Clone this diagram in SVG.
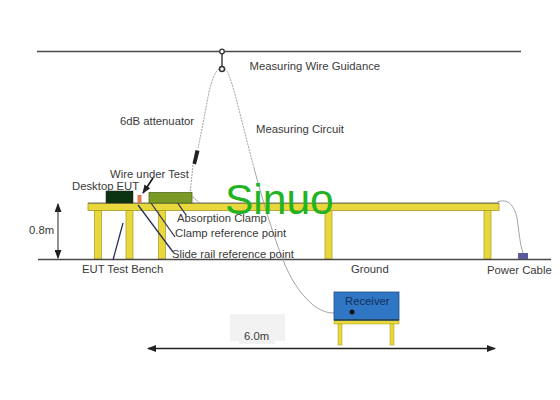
<svg xmlns="http://www.w3.org/2000/svg" width="560" height="400" viewBox="0 0 560 400">
<style>
text{font-family:"Liberation Sans",Arial,sans-serif;font-size:11.3px;fill:#3a3a3a}
.leg{fill:#e8d83c;stroke:#a89a20;stroke-width:.7}
.ln{fill:none;stroke:#4a4a4a;stroke-width:1.6}
.lead{fill:none;stroke:#2a3358;stroke-width:1.3}
.wire{fill:none;stroke:#999;stroke-width:.9}
</style>
<defs>
<marker id="ah" markerWidth="9" markerHeight="7" refX="8" refY="3.5" orient="auto-start-reverse" markerUnits="userSpaceOnUse"><path d="M0 0L9 3.5L0 7Z" fill="#222"/></marker>
</defs>
<rect width="560" height="400" fill="#fff"/>
<g id="bench">
<rect class="leg" x="94.500" y="210" width="7" height="49"/>
<rect class="leg" x="126" y="210" width="7" height="49"/>
<rect class="leg" x="158.500" y="210" width="7" height="49"/>
<rect class="leg" x="325" y="210" width="7" height="49"/>
<rect class="leg" x="484" y="210" width="7" height="49"/>
<rect x="88" y="203.500" width="411" height="7" fill="#e8d83c" stroke="#a89a20" stroke-width=".8"/>
<path d="M88 203H499" stroke="#555" stroke-width=".8"/>
</g>
<g id="connectors">
<path class="ln" d="M37 51.500H521"/>
<path class="ln" d="M38 259.500H551"/>
<path class="ln" d="M222 53V66"/>
<path class="wire" stroke-dasharray="2 1" d="M219 69C214 73 212 80 209 92C205 112 202 130 198 148"/>
<path class="wire" stroke-dasharray="2 1" d="M193 165C192 175 191 185 190 193"/>
<path class="wire" stroke-dasharray="2 1" d="M225 69C231 73 236 100 254 168"/>
<path class="wire" d="M254 168C262 198 272 232 283 260C290 277 298 292 313 305C320 310 326 313 334 313"/>
<path d="M334 313H352" fill="none" stroke="#333" stroke-width="1"/>
<path class="wire" d="M191 196C196 198 197 203 201 203"/>
<path class="wire" d="M497 202C508 198 514 205 517 218C519 232 520 244 523 253"/>
<path class="lead" d="M177 202L186 215"/>
<path class="lead" d="M151 203L175 237"/>
<path class="lead" d="M138 205L173 252"/>
<path class="lead" d="M123 223L113 260"/>
<path d="M58 204V258" fill="none" stroke="#222" stroke-width="1" marker-start="url(#ah)" marker-end="url(#ah)"/>
<path d="M148 348.500H495" fill="none" stroke="#222" stroke-width="1.300" marker-start="url(#ah)" marker-end="url(#ah)"/>
<path d="M153 178L143 193" fill="none" stroke="#111" stroke-width="1.500" marker-end="url(#ah)"/>
</g>
<g id="guidance">
<circle cx="222" cy="51.500" r="2.300" fill="#fff" stroke="#333" stroke-width="1.300"/>
<circle cx="222" cy="69" r="2.500" fill="#fff" stroke="#333" stroke-width="1.500"/>
</g>
<g id="attenuator">
<path d="M195.500 150L199.500 151L196 164.500L192.500 163.500Z" fill="#222"/>
</g>
<g id="eut"><rect x="106" y="191" width="27" height="12" fill="#0c3312" stroke="#222" stroke-width=".5"/></g>
<g id="wire-under-test"><rect x="137.500" y="195" width="4" height="8" fill="#e07a5a"/></g>
<g id="clamp"><rect x="149" y="192.500" width="43" height="10.500" fill="#7a9a28" stroke="#556b1a" stroke-width=".8"/></g>
<g id="receiver">
<rect x="334" y="292" width="65" height="28" fill="#2f76c4" stroke="#1f4f86" stroke-width=".8"/>
<rect x="334" y="320" width="65" height="4" fill="#e8d83c" stroke="#a89a20" stroke-width=".5"/>
<rect x="338" y="324" width="4" height="21" fill="#e8d83c" stroke="#a89a20" stroke-width=".5"/>
<rect x="390" y="324" width="4" height="21" fill="#e8d83c" stroke="#a89a20" stroke-width=".5"/>
<path d="M334 320H399" stroke="#17395f" stroke-width="1.400"/>
<circle cx="352" cy="312" r="2.500" fill="#111"/>
</g>
<g id="power-cable"><rect x="518" y="253" width="10" height="6" fill="#5a5a9c"/></g>
<rect x="230" y="314" width="55" height="27" fill="#f2f2f2"/>
<rect x="239" y="340" width="36" height="4" fill="#f2f2f2"/>
<g id="labels">
<text x="249.500" y="69.500">Measuring Wire Guidance</text>
<text x="120" y="124.500">6dB attenuator</text>
<text x="256" y="132.500">Measuring Circuit</text>
<text x="110" y="177.500">Wire under Test</text>
<text x="72" y="189.500">Desktop EUT</text>
<text x="177" y="222">Absorption Clamp</text>
<text x="175" y="236.500">Clamp reference point</text>
<text x="172" y="257.500">Slide rail reference point</text>
<text x="29" y="234">0.8m</text>
<text x="82" y="273">EUT Test Bench</text>
<text x="351" y="272.500">Ground</text>
<text x="487" y="273.500">Power Cable</text>
<text x="345" y="304.500" style="fill:#12305c">Receiver</text>
<text x="244" y="339.500">6.0m</text>
<text x="225" y="214" style="font-size:42.500px;fill:#22b322">Sinuo</text>
</g>
</svg>
